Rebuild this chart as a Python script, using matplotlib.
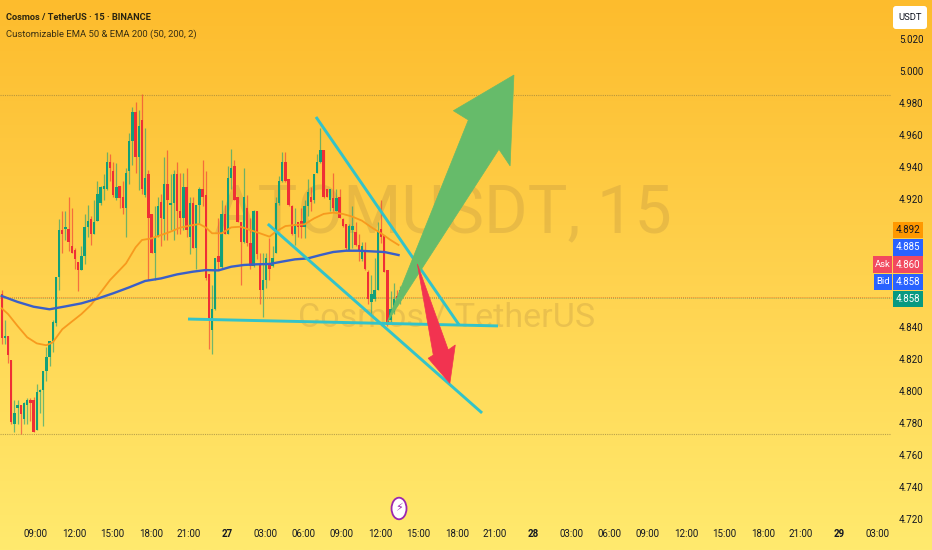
import numpy as np
import matplotlib
matplotlib.use("Agg")
import matplotlib.pyplot as plt
from matplotlib.colors import LinearSegmentedColormap
from matplotlib.patches import Ellipse, Polygon, Rectangle, FancyBboxPatch
from matplotlib.transforms import Affine2D

# candles, 15 min bars
opens = [4.861,4.834,4.835,4.820,4.780,4.790,4.792,4.783,4.792,4.795,4.795,4.776,4.800,4.801,4.813,4.822,4.832,4.843,4.872,4.901,4.902,
         4.902,4.891,4.889,4.881,4.876,4.885,4.903,4.908,4.899,4.907,4.918,4.927,4.927,4.944,4.938,4.921,4.929,4.922,4.915,4.938,4.957,
         4.975,4.947,4.970,4.923,4.936,4.911,4.887,4.897,4.919,4.908,4.930,4.917,4.918,4.936,4.913,4.909,4.928,4.897,4.918,4.890,4.917,
         4.927,4.923,4.874,4.839,4.852,4.885,4.878,4.911,4.899,4.934,4.941,4.922,4.906,4.894,4.915,4.893,4.879,4.913,4.880,4.864,4.870,
         4.880,4.879,4.887,4.918,4.932,4.944,4.933,4.916,4.899,4.906,4.907,4.903,4.916,4.922,4.920,4.937,4.944,4.951,4.927,4.920,4.921,
         4.913,4.922,4.908,4.905,4.889,4.901,4.900,4.892,4.883,4.889,4.875,4.856,4.858,4.864,4.902,4.898,4.876,4.845,4.850,4.860,4.858]
highs = [4.864,4.845,4.835,4.820,4.795,4.795,4.792,4.794,4.796,4.796,4.797,4.805,4.802,4.813,4.828,4.832,4.845,4.872,4.908,4.913,4.913,
         4.922,4.915,4.890,4.881,4.891,4.911,4.917,4.910,4.920,4.932,4.929,4.936,4.950,4.949,4.944,4.943,4.929,4.932,4.940,4.962,4.978,
         4.981,4.976,4.986,4.965,4.939,4.911,4.916,4.922,4.924,4.947,4.951,4.936,4.939,4.944,4.937,4.937,4.940,4.922,4.922,4.917,4.928,
         4.945,4.938,4.874,4.867,4.884,4.909,4.920,4.917,4.941,4.952,4.945,4.922,4.906,4.940,4.923,4.909,4.914,4.913,4.887,4.887,4.887,
         4.896,4.891,4.922,4.935,4.950,4.950,4.933,4.917,4.915,4.906,4.915,4.920,4.933,4.928,4.936,4.949,4.965,4.951,4.927,4.927,4.937,
         4.927,4.927,4.909,4.905,4.905,4.916,4.906,4.899,4.894,4.894,4.876,4.873,4.884,4.906,4.920,4.898,4.876,4.863,4.868,4.864,4.866]
lows = [4.830,4.830,4.818,4.780,4.775,4.780,4.774,4.780,4.780,4.782,4.775,4.776,4.787,4.779,4.807,4.816,4.825,4.841,4.864,4.887,4.895,
        4.888,4.887,4.877,4.863,4.876,4.880,4.897,4.892,4.899,4.907,4.917,4.920,4.926,4.932,4.922,4.920,4.915,4.911,4.897,4.930,4.942,
        4.937,4.926,4.924,4.922,4.870,4.887,4.870,4.897,4.891,4.895,4.895,4.901,4.895,4.899,4.899,4.901,4.897,4.886,4.890,4.877,4.905,
        4.916,4.870,4.827,4.824,4.851,4.876,4.877,4.899,4.899,4.927,4.920,4.906,4.867,4.893,4.891,4.877,4.878,4.883,4.855,4.847,4.865,
        4.870,4.878,4.887,4.917,4.931,4.931,4.916,4.898,4.892,4.897,4.896,4.896,4.910,4.913,4.918,4.937,4.943,4.921,4.922,4.913,4.913,
        4.913,4.909,4.903,4.889,4.889,4.890,4.891,4.882,4.882,4.876,4.855,4.849,4.857,4.864,4.893,4.875,4.841,4.844,4.849,4.855,4.855]
closes = [4.834,4.835,4.823,4.781,4.787,4.792,4.786,4.793,4.795,4.793,4.775,4.800,4.801,4.813,4.822,4.832,4.844,4.872,4.901,4.899,4.903,
          4.894,4.887,4.883,4.876,4.885,4.903,4.907,4.899,4.906,4.924,4.928,4.929,4.944,4.940,4.923,4.928,4.921,4.915,4.937,4.957,4.975,
          4.947,4.966,4.927,4.934,4.909,4.887,4.896,4.916,4.909,4.930,4.920,4.918,4.936,4.913,4.909,4.928,4.901,4.918,4.890,4.917,4.927,
          4.922,4.871,4.845,4.852,4.884,4.881,4.911,4.899,4.934,4.940,4.920,4.906,4.894,4.922,4.893,4.879,4.913,4.886,4.864,4.870,4.884,
          4.877,4.884,4.918,4.932,4.944,4.932,4.917,4.899,4.905,4.903,4.903,4.916,4.925,4.919,4.936,4.944,4.951,4.922,4.922,4.927,4.915,
          4.921,4.909,4.904,4.890,4.904,4.904,4.892,4.889,4.891,4.877,4.858,4.861,4.864,4.900,4.897,4.875,4.842,4.852,4.858,4.858,4.864]

# moving averages, read at every few bars
ema200_bars = [0,5,10,15,20,25,30,35,40,45,50,55,60,64,68,72,76,80,84,88,92,96,100,104,108,112,116,120,124.5]
ema200 = [4.8600,4.8563,4.8533,4.8517,4.8535,4.8554,4.8583,4.8617,4.8654,4.8694,4.8710,4.8735,4.8752,4.8762,4.8760,
          4.8783,4.8794,4.8798,4.8800,4.8815,4.8829,4.8835,4.8856,4.8875,4.8883,4.8883,4.8879,4.8875,4.8856]
ema50_bars = [0,2,5,8,11,14,16,19,22,25,28,31,34,37,39,42,44,47,50,53,56,59,62,64,66,69,72,75,78,81,84,86,89,92,95,98,101,104,107,110,113,116,119,122,124.5]
ema50 = [4.8523,4.8487,4.8412,4.8342,4.8304,4.8292,4.8310,4.8392,4.8440,4.8487,4.8544,4.8621,4.8700,4.8762,4.8804,4.8904,
         4.8950,4.8960,4.8981,4.9002,4.9027,4.9040,4.9050,4.9029,4.8992,4.8992,4.9029,4.9033,4.9012,4.8992,4.8971,4.9002,
         4.9037,4.9044,4.9048,4.9085,4.9113,4.9121,4.9113,4.9096,4.9071,4.9029,4.8992,4.8950,4.8919]

# hand drawn lines and arrows (bar, price)
trend_lines = [([98.6,143.5],[4.9719,4.8419]), ([83.5,150.7],[4.9050,4.7869]), ([58.45,155.7],[4.8456,4.8413])]
up_arrow_bars = [120.8,146.4,141.7,160.7,159.5,156.0]
up_arrow_prices = [4.8431,4.9700,4.9758,4.9981,4.9413,4.9517]
down_arrow_bars = [130.4,140.1,142.3,140.6,133.8,135.4]
down_arrow_prices = [4.8800,4.8263,4.8294,4.8054,4.8211,4.8231]

# axis text
time_labels = ["09:00","12:00","15:00","18:00","21:00","27","03:00","06:00","09:00","12:00","15:00","18:00","21:00","28",
               "03:00","06:00","09:00","12:00","15:00","18:00","21:00","29","03:00"]
price_ticks = [5.02,5.00,4.98,4.96,4.94,4.92,4.84,4.82,4.80,4.78,4.76,4.74,4.72]
level_prices = [4.9855,4.7735]
tag_values = ["4.892","4.885","4.860","4.858","4.858"]
tag_colors = ["#ff9800","#2962ff","#f2495f","#2962ff","#089981"]
tag_text_colors = ["#131722","white","white","white","white"]

plt.rcParams["font.family"] = ["Roboto", "DejaVu Sans"]

fig = plt.figure(figsize=(9.32, 5.5), dpi=100)
ax = fig.add_axes([0, 0, 1, 1])
xlim = (-0.533, 291.86)
ylim = (4.70125, 5.045)
ax.set_xlim(xlim)
ax.set_ylim(ylim)
ax.axis("off")
px = Affine2D().scale(1, -1).translate(0, 550)  # screen pixels, top left origin

bg = LinearSegmentedColormap.from_list("bg", ["#fdbc2d", "#ffd24e", "#ffea6e"])
ax.imshow(np.linspace(0, 1, 256).reshape(-1, 1), cmap=bg, extent=(*xlim, *ylim), aspect="auto", zorder=0)

# watermark
ax.text(443, 215, "ATOMUSDT, 15", transform=px, fontsize=48, color="#96703c", alpha=0.2,
        ha="center", va="center", zorder=1)
ax.text(447, 318, "Cosmos / TetherUS", transform=px, fontsize=24.5, color="#96703c", alpha=0.2,
        ha="center", va="center", zorder=1)

# level lines
ax.hlines(level_prices, xlim[0], 279, colors="#8c7a3c", linewidth=0.8, alpha=0.6, linestyles=(0, (1, 1)), zorder=1.5)
ax.hlines(4.8595, xlim[0], 279, colors="#d8561c", linewidth=0.7, alpha=0.55, linestyles=(0, (1, 1)), zorder=1.5)
ax.hlines(4.8585, xlim[0], 279, colors="#3c7a60", linewidth=0.7, alpha=0.45, linestyles=(0, (1, 1)), zorder=1.5)

# candles
x = np.arange(len(opens))
o, h, l, c = map(np.array, (opens, highs, lows, closes))
up = c >= o
colors = np.where(up, "#12a07a", "#ef2f35")
ax.vlines(x, l, h, colors=colors, linewidth=0.9, alpha=0.6, zorder=2)
ax.bar(x, np.maximum(np.abs(c - o), 0.001), bottom=np.minimum(o, c), width=0.74, color=colors, linewidth=0, zorder=3)

ax.plot(ema50_bars, ema50, color="#f79a1e", linewidth=1.3, zorder=4)
ax.plot(ema200_bars, ema200, color="#3a5fc8", linewidth=1.7, zorder=4)

for tx, ty in trend_lines:
    ax.plot(tx, ty, color="#33c3c9", linewidth=2.1, solid_capstyle="butt", zorder=5)

ax.add_patch(Polygon(np.column_stack((up_arrow_bars, up_arrow_prices)), closed=True, facecolor="#66bb6a",
                     edgecolor="#66bb6a", linewidth=0.5, zorder=6))
ax.add_patch(Polygon(np.column_stack((down_arrow_bars, down_arrow_prices)), closed=True, facecolor="#f23350",
                     edgecolor="#f23350", linewidth=0.5, zorder=6))

# bolt marker
ax.add_patch(Ellipse((124.65, 4.7272), 4.7, 0.0135, facecolor="white", edgecolor="#9c27b0", linewidth=1.3, zorder=6))
ax.text(399, 508.5, "\u26a1", transform=px, family="DejaVu Sans", fontsize=8, color="#9c27b0",
        ha="center", va="center", zorder=7)

# header
ax.text(6, 17, "Cosmos / TetherUS \u00b7 15 \u00b7 BINANCE", transform=px, fontsize=6.7, fontweight="bold",
        color="#2a2410", va="center", zorder=8)
ax.text(6, 34, "Customizable EMA 50 & EMA 200 (50, 200, 2)", transform=px, fontsize=6.8,
        color="#3a3012", va="center", zorder=8)

# time axis
tick_pos = [10.76 + 12 * k for k in range(len(time_labels))]
for pos, lab in zip(tick_pos, time_labels):
    bold = lab in ("27", "28", "29")
    ax.text(pos, 4.71125, lab, fontsize=7, color="#131722", ha="center", va="center",
            fontweight="bold" if bold else "normal", zorder=8)

# price axis
clip = Rectangle((880, 0), 52, 521, transform=px)
for p in price_ticks:
    t = ax.text(911 / 932, p, f"{p:.3f}", transform=ax.get_yaxis_transform(), fontsize=7, color="#131722",
                ha="center", va="center", zorder=8)
    t.set_clip_path(clip)

ax.add_patch(FancyBboxPatch((893, 6), 34, 23, boxstyle="round,pad=0,rounding_size=3", transform=px,
                            facecolor="white", edgecolor="none", zorder=9))
ax.text(910, 18, "USDT", transform=px, fontsize=6.8, color="#131722", ha="center", va="center", zorder=10)

for k, (val, col, tc) in enumerate(zip(tag_values, tag_colors, tag_text_colors)):
    top = 222 + 17.2 * k
    ax.add_patch(Rectangle((893, top), 30, 16.4, transform=px, facecolor=col, edgecolor="none", zorder=9))
    ax.text(908, top + 8.3, val, transform=px, fontsize=7, color=tc, ha="center", va="center", zorder=10)

ax.add_patch(Rectangle((873, 256.4), 19.4, 16.4, transform=px, facecolor="#f2495f", edgecolor="none", zorder=9))
ax.text(882.7, 264.7, "Ask", transform=px, fontsize=6.8, color="white", ha="center", va="center", zorder=10)
ax.add_patch(Rectangle((874, 273.6), 18.4, 16.4, transform=px, facecolor="#2962ff", edgecolor="none", zorder=9))
ax.text(883, 281.9, "Bid", transform=px, fontsize=6.8, color="white", ha="center", va="center", zorder=10)

fig.savefig("out.png", dpi=100)
